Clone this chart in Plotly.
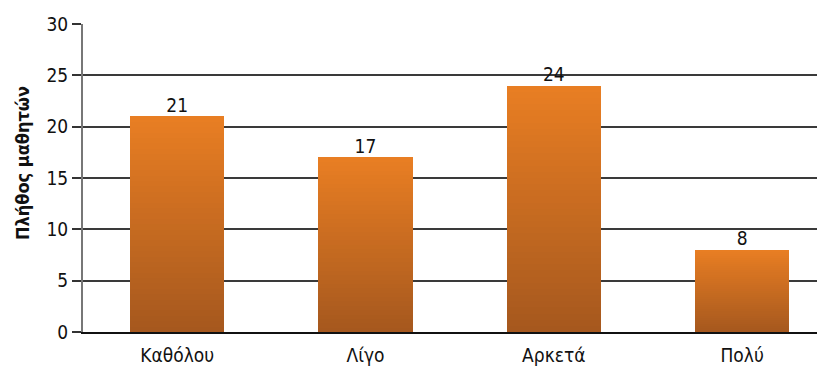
import plotly.graph_objects as go

categories = ["Καθόλου", "Λίγο", "Αρκετά", "Πολύ"]
values = [21, 17, 24, 8]
y_ticks = [0, 5, 10, 15, 20, 25, 30]
y_title = "Πλήθος μαθητών"

top_rgb = (232, 126, 35)
bot_rgb = (166, 88, 30)
N = 40

font_fam = "DejaVu Sans Condensed, DejaVu Sans, Liberation Sans, Arial"

fig = go.Figure()
for i in range(N):
    t = i / (N - 1)  # 0 bottom -> 1 top
    r = round(bot_rgb[0] + (top_rgb[0] - bot_rgb[0]) * t)
    g = round(bot_rgb[1] + (top_rgb[1] - bot_rgb[1]) * t)
    b = round(bot_rgb[2] + (top_rgb[2] - bot_rgb[2]) * t)
    fig.add_trace(go.Bar(
        x=categories, y=[v / N for v in values],
        marker=dict(color=f"rgb({r},{g},{b})", line=dict(width=0)),
        width=0.5, showlegend=False, hoverinfo="skip",
    ))

fig.add_trace(go.Scatter(
    x=categories, y=values, mode="text", text=[str(v) for v in values],
    textposition="top center", textfont=dict(size=19, color="#111", family=font_fam),
    showlegend=False, hoverinfo="skip", cliponaxis=False,
))

fig.update_layout(
    width=817, height=361,
    margin=dict(l=75, r=0, t=16, b=37),
    paper_bgcolor="white", plot_bgcolor="white",
    barmode="stack", bargap=0,
    font=dict(family=font_fam, size=19, color="#111"),
    xaxis=dict(
        type="category", range=[-0.5, 3.44], automargin=False,
        showgrid=False, showline=True, linecolor="#111", linewidth=2,
        ticks="", tickfont=dict(size=19), zeroline=False, ticklabelstandoff=5,
    ),
    yaxis=dict(
        range=[0, 30], tickvals=y_ticks, showgrid=True, gridcolor="#3a3a3a", gridwidth=2,
        showline=True, linecolor="#777", linewidth=2, ticks="outside", ticklen=9,
        tickcolor="#333", tickwidth=2, tickfont=dict(size=19), zeroline=False,
        automargin=False,
    ),
    annotations=[dict(
        text=f"<b>{y_title}</b>", textangle=-90, xref="paper", yref="paper",
        x=(22 - 83) / 742, y=(332 - 163) / 308, showarrow=False,
        xanchor="center", yanchor="middle",
        font=dict(size=18, family=font_fam),
    )],
)

fig.write_html("out.html")
